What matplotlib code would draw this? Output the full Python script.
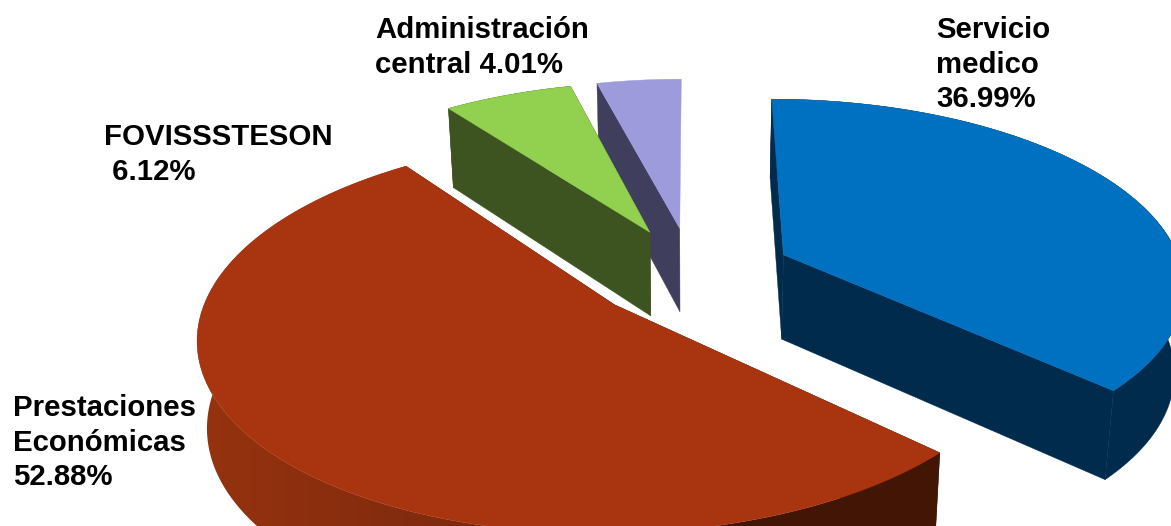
import numpy as np
import matplotlib
matplotlib.use("Agg")
import matplotlib.pyplot as plt
from matplotlib.colors import LinearSegmentedColormap
from matplotlib.patches import Polygon

# -------------------------------
# DATA
# -------------------------------
labels = ["Servicio\nmedico\n36.99%", "Prestaciones\nEconómicas\n52.88%", "FOVISSSTESON\n 6.12%", "Administración\ncentral 4.01%"]
values = [36.99, 52.88, 6.12, 4.01]
top_colors = ["#0070C0", "#A83510", "#92D050", "#9E9BDC"]
wall_colors = ["#002B4D", "#431505", "#3D5420", "#3F3E5C"]

# -------------------------------
# CAMERA
# -------------------------------
W, H = 1171, 526
x0, yc = 692, 273     # vanishing column, y of the pie centre
fx, fy = 400, 184     # radius on screen
k = 0.15              # perspective strength
explode = 0.253
depth = 85
m = 0.02              # walls lean in slightly going down


def project(X, Y, z=0.0):
    s = 1 / (1 + k * np.asarray(Y))
    x = x0 + fx * np.asarray(X) * s
    y = yc - fy * np.asarray(Y) * s
    x = x0 + (x - x0) * (1 - m * z)
    y = y + depth * z * np.sqrt(s)
    return x, y


fig = plt.figure(figsize=(W / 100, H / 100), dpi=100)
ax = fig.add_axes([0, 0, 1, 1])

# red rim is lit on the left and falls to dark towards the front right
rim_cmap = LinearSegmentedColormap.from_list("rim", ["#96330F", "#7F2A0E", "#431505", "#431505"])

# -------------------------------
# SLICES (clockwise from the top)
# -------------------------------
fractions = np.array(values) / sum(values)
ends = np.cumsum(fractions) * 2 * np.pi
starts = ends - fractions * 2 * np.pi
order = [3, 2, 0, 1]

for z, idx in enumerate(order):
    a0, a1 = starts[idx], ends[idx]
    mid = (a0 + a1) / 2
    ox, oy = explode * np.sin(mid), explode * np.cos(mid)
    th = np.linspace(a0, a1, 200)
    rx, ry = ox + np.sin(th), oy + np.cos(th)

    # radial walls, the purple end wall faces away
    for ang in (a0, a1):
        if idx == 3 and ang == a1:
            continue
        ex, ey = ox + np.sin(ang), oy + np.cos(ang)
        p = [project(ox, oy), project(ex, ey), project(ex, ey, 1), project(ox, oy, 1)]
        ax.add_patch(Polygon(p, closed=True, color=wall_colors[idx], lw=0.3, zorder=z + 1))

    # rim
    xt, yt = project(rx, ry)
    xb, yb = project(rx, ry, 1)
    rim = np.c_[np.r_[xt, xb[::-1]], np.r_[yt, yb[::-1]]]
    if idx == 1:
        patch = Polygon(rim, closed=True, fc="none", ec="none", zorder=z + 1)
        ax.add_patch(patch)
        grad = ax.imshow(np.linspace(0, 1, 256)[None, :], extent=[190, 1000, H, 0], aspect="auto",
                         cmap=rim_cmap, zorder=z + 1)
        grad.set_clip_path(patch)
    elif idx != 3:
        ax.add_patch(Polygon(rim, closed=True, color=wall_colors[idx], lw=0.3, zorder=z + 1))

    # top
    px, py = project(np.r_[ox, rx], np.r_[oy, ry])
    ax.add_patch(Polygon(np.c_[px, py], closed=True, color=top_colors[idx], lw=0.3, zorder=z + 1.5))

ax.set_xlim(0, W)
ax.set_ylim(H, 0)
ax.axis("off")

# -------------------------------
# LABELS
# -------------------------------
label_pos = [(936, 16), (13, 394), (104, 123), (375, 16)]
for txt, (lx, ly) in zip(labels, label_pos):
    ax.text(lx, ly, txt, fontsize=21.2, fontweight="bold", family="Liberation Sans",
            ha="left", va="top", linespacing=1.3, color="black", zorder=10)

fig.savefig("out.png", dpi=100)
